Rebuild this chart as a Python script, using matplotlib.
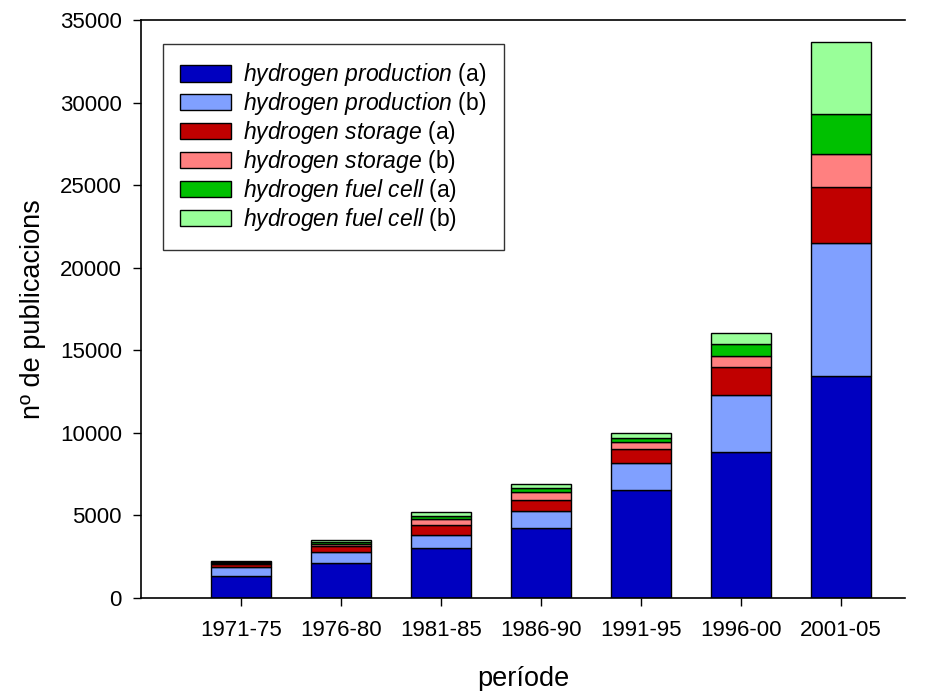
import matplotlib
matplotlib.use("Agg")
import matplotlib.pyplot as plt
import numpy as np

periods = ["1971-75", "1976-80", "1981-85", "1986-90", "1991-95", "1996-00", "2001-05"]
prod_a = [1360, 2120, 3030, 4265, 6550, 8855, 13470]
prod_b = [520, 650, 810, 1015, 1620, 3460, 8045]
stor_a = [160, 360, 610, 665, 850, 1655, 3375]
stor_b = [80, 140, 360, 445, 400, 670, 2000]
fuel_a = [80, 120, 140, 265, 285, 750, 2390]
fuel_b = [65, 145, 285, 220, 265, 640, 4390]

series = [prod_a, prod_b, stor_a, stor_b, fuel_a, fuel_b]
labels = [r"$\it{hydrogen\ production}$ (a)", r"$\it{hydrogen\ production}$ (b)",
          r"$\it{hydrogen\ storage}$ (a)", r"$\it{hydrogen\ storage}$ (b)",
          r"$\it{hydrogen\ fuel\ cell}$ (a)", r"$\it{hydrogen\ fuel\ cell}$ (b)"]
colors = ["#0000C0", "#80A0FF", "#C00000", "#FF8080", "#00C000", "#99FF99"]

plt.rcParams['font.family'] = ['Liberation Sans', 'DejaVu Sans']
plt.rcParams['mathtext.fontset'] = 'custom'
plt.rcParams['mathtext.rm'] = 'Liberation Sans'
plt.rcParams['mathtext.it'] = 'Liberation Sans:italic'

fig = plt.figure(figsize=(9.28, 6.91), dpi=100)
ax = fig.add_axes([141/928, 93/691, 764/928, 578/691])

x = np.arange(1, len(periods) + 1)
bottom = np.zeros(len(periods))
for vals, lab, col in zip(series, labels, colors):
    v = np.array(vals, dtype=float)
    ax.bar(x, v, 0.6, bottom=bottom, color=col, edgecolor="black", linewidth=1.0, label=lab)
    bottom += v

ax.set_xlim(0, 7.64)
ax.set_ylim(0, 35000)
ax.set_yticks(np.arange(0, 35001, 5000))
ax.set_xticks(x)
ax.set_xticklabels(periods)
ax.tick_params(axis='both', direction='out', length=5.8, width=1.0, labelsize=16, pad=8)
ax.tick_params(axis='x', pad=10)
for s in ['left', 'bottom', 'top']:
    ax.spines[s].set_linewidth(1.2)
ax.spines['right'].set_visible(False)

ax.set_ylabel("nº de publicacions", fontsize=19.5, labelpad=10)
ax.set_xlabel("període", fontsize=19.5, labelpad=18)

leg = ax.legend(loc='upper left', bbox_to_anchor=(22/764, (598-44)/578), borderaxespad=0,
                fontsize=16.5, frameon=True, fancybox=False, edgecolor='black',
                handlelength=2.2, handleheight=0.74, handletextpad=0.55, labelspacing=0.085,
                borderpad=0.75)
leg.get_frame().set_linewidth(1.0)

fig.savefig("out.png", dpi=100)
